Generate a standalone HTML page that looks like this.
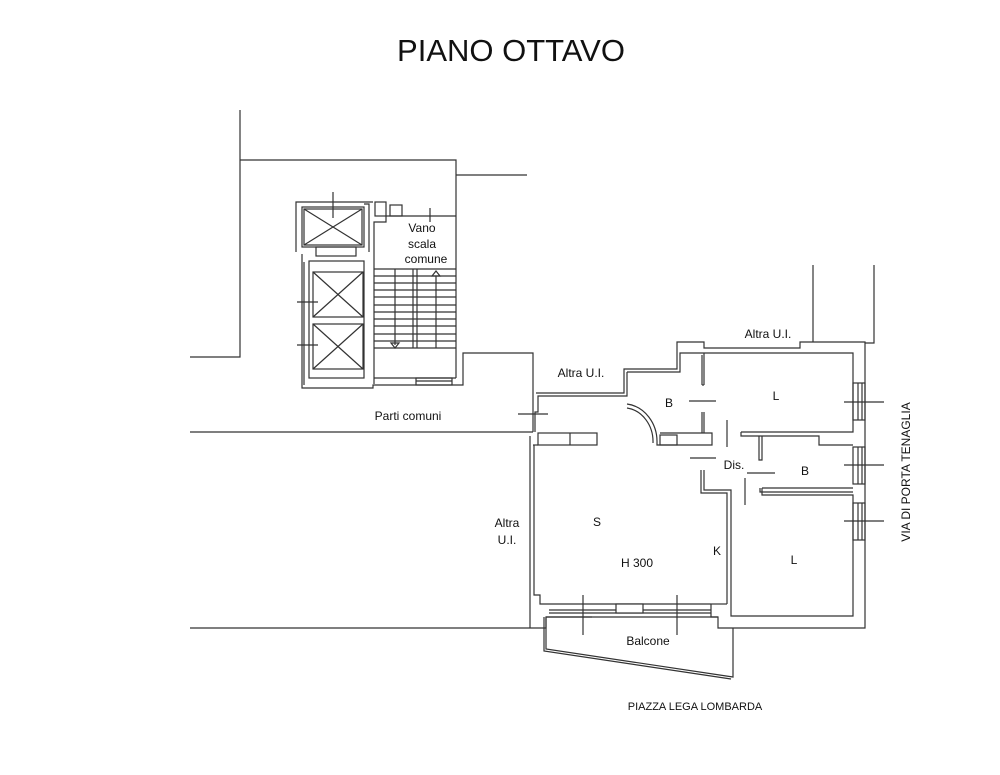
<!DOCTYPE html>
<html><head><meta charset="utf-8"><style>
html,body{margin:0;padding:0;background:#fff;}
svg{display:block;}
text{font-family:"Liberation Sans",sans-serif;fill:#111;}
</style></head><body>
<svg width="1000" height="775" viewBox="0 0 1000 775" xmlns="http://www.w3.org/2000/svg">
<rect width="1000" height="775" fill="#fff"/>
<text x="511" y="61" font-size="31" text-anchor="middle" fill="#000">PIANO OTTAVO</text>
<g fill="none" stroke="#333" stroke-width="1.2">
<polyline points="240,110 240,357 190,357"/>
<polyline points="240,160 456,160 456,378"/>
<line x1="456" y1="175" x2="527" y2="175"/>
<line x1="190" y1="432" x2="533" y2="432"/>
<line x1="190" y1="628" x2="530" y2="628"/>
<polyline points="296,252 296,202 373,202"/>
<rect x="302" y="207" width="62" height="40"/>
<rect x="304" y="209" width="58" height="36"/>
<line x1="304" y1="209" x2="362" y2="245"/><line x1="362" y1="209" x2="304" y2="245"/>
<rect x="316" y="247" width="40" height="9"/>
<line x1="333" y1="192" x2="333" y2="218"/>
<polyline points="364,204 369,204 369,252"/>
<rect x="309" y="261" width="55" height="117"/>
<rect x="313" y="272" width="50" height="45"/>
<line x1="313" y1="272" x2="363" y2="317"/><line x1="363" y1="272" x2="313" y2="317"/>
<rect x="313" y="324" width="50" height="45"/>
<line x1="313" y1="324" x2="363" y2="369"/><line x1="363" y1="324" x2="313" y2="369"/>
<line x1="297" y1="302" x2="318" y2="302"/><line x1="297" y1="345" x2="318" y2="345"/>
<polyline points="302,254 302,388 373,388 373,385 463,385 463,353 533,353 533,432"/>
<polyline points="304,262 304,385"/>
<rect x="375" y="202" width="11" height="14"/>
<rect x="390" y="205" width="12" height="11"/>
<polyline points="374,384 374,222 386,222 386,216 456,216"/>
<line x1="430" y1="208" x2="430" y2="222"/>
<polyline points="374,378 456,378"/>
<rect x="416" y="378" width="36" height="7"/>
<line x1="416" y1="381" x2="452" y2="381"/>
<line x1="374" y1="269" x2="456" y2="269"/>
<line x1="374" y1="276" x2="456" y2="276"/>
<line x1="374" y1="283" x2="456" y2="283"/>
<line x1="374" y1="290" x2="456" y2="290"/>
<line x1="374" y1="297" x2="456" y2="297"/>
<line x1="374" y1="305" x2="456" y2="305"/>
<line x1="374" y1="312" x2="456" y2="312"/>
<line x1="374" y1="319" x2="456" y2="319"/>
<line x1="374" y1="326" x2="456" y2="326"/>
<line x1="374" y1="334" x2="456" y2="334"/>
<line x1="374" y1="341" x2="456" y2="341"/>
<line x1="374" y1="348" x2="456" y2="348"/>
<line x1="413" y1="269" x2="413" y2="348"/><line x1="417" y1="269" x2="417" y2="348"/>
<line x1="395" y1="269" x2="395" y2="345"/><polygon points="391,343 399,343 395,348"/>
<line x1="436" y1="276" x2="436" y2="348"/><polygon points="432,276 440,276 436,271"/>
<polyline points="535,432 535,412 538,412 538,396 627,396 627,372"/>
<polyline points="536,393 624,393 624,369 677,369 677,342 704,342 704,348 800,348 800,342 865,342 865,628 718,628 718,617 711,617 711,604"/>
<line x1="518" y1="414" x2="548" y2="414"/>
<polyline points="813,265 813,342"/><polyline points="874,265 874,343 865,343"/>
<polyline points="627,372 680,372 680,353 853,353 853,432 741,432"/>
<line x1="704" y1="353" x2="704" y2="385"/><line x1="702" y1="355" x2="702" y2="385"/>
<line x1="702" y1="385" x2="704" y2="385"/>
<line x1="702" y1="412" x2="702" y2="433"/><line x1="704" y1="412" x2="704" y2="433"/>
<line x1="689" y1="401" x2="716" y2="401"/>
<path d="M627,404 A34,38 0 0 1 657,443"/>
<path d="M627,408 A30,34 0 0 1 653,443"/>
<polyline points="657,443 657,445 712,445 712,433 660,433"/>
<rect x="660" y="435" width="17" height="10"/>
<line x1="727" y1="420" x2="727" y2="447"/>
<polyline points="741,432 741,436 819,436 819,445 853,445"/>
<polyline points="759,436 759,460 762,460 762,436"/>
<line x1="690" y1="458" x2="716" y2="458"/>
<line x1="747" y1="473" x2="775" y2="473"/>
<line x1="745" y1="478" x2="745" y2="505"/>
<polyline points="701,470 701,493 727,493 727,604"/>
<polyline points="704,470 704,490 731,490 731,616 853,616 853,495 762,495 762,488"/>
<polyline points="760,488 760,492 853,492"/>
<line x1="762" y1="488" x2="853" y2="488"/>
<rect x="853" y="383" width="12" height="37"/><line x1="858" y1="383" x2="858" y2="420"/><line x1="862" y1="383" x2="862" y2="420"/>
<rect x="853" y="447" width="12" height="37"/><line x1="858" y1="447" x2="858" y2="484"/><line x1="862" y1="447" x2="862" y2="484"/>
<rect x="853" y="503" width="12" height="37"/><line x1="858" y1="503" x2="858" y2="540"/><line x1="862" y1="503" x2="862" y2="540"/>
<line x1="844" y1="402" x2="884" y2="402"/><line x1="844" y1="465" x2="884" y2="465"/><line x1="844" y1="521" x2="884" y2="521"/>
<rect x="538" y="433" width="59" height="12"/><line x1="570" y1="433" x2="570" y2="445"/>
<polyline points="530,436 530,628"/>
<polyline points="533,445 538,445"/>
<polyline points="534,445 534,595 540,595 540,604 549,604"/>
<polyline points="530,628 546,628 546,617 592,617"/>
<line x1="549" y1="604" x2="711" y2="604"/>
<line x1="549" y1="610" x2="711" y2="610"/>
<line x1="549" y1="613" x2="711" y2="613"/>
<rect x="616" y="604" width="27" height="9" fill="#fff"/>
<line x1="583" y1="595" x2="583" y2="635"/><line x1="677" y1="595" x2="677" y2="635"/>
<line x1="727" y1="604" x2="711" y2="604"/>
<polyline points="546,617 546,649 733,677 733,628"/>
<polyline points="544,617 544,651 731,679"/>
<line x1="546" y1="617" x2="718" y2="617"/>
</g>
<g font-size="12">
<text x="422" y="232" text-anchor="middle">Vano</text>
<text x="422" y="248" text-anchor="middle">scala</text>
<text x="426" y="263" text-anchor="middle">comune</text>
<text x="408" y="420" text-anchor="middle">Parti comuni</text>
<text x="581" y="377" text-anchor="middle">Altra U.I.</text>
<text x="768" y="338" text-anchor="middle">Altra U.I.</text>
<text x="669" y="407" text-anchor="middle">B</text>
<text x="776" y="400" text-anchor="middle">L</text>
<text x="734" y="469" text-anchor="middle">Dis.</text>
<text x="805" y="475" text-anchor="middle">B</text>
<text x="597" y="526" text-anchor="middle">S</text>
<text x="637" y="567" text-anchor="middle">H 300</text>
<text x="717" y="555" text-anchor="middle">K</text>
<text x="794" y="564" text-anchor="middle">L</text>
<text x="648" y="645" text-anchor="middle">Balcone</text>
<text x="507" y="527" text-anchor="middle">Altra</text>
<text x="507" y="544" text-anchor="middle">U.I.</text>
<text transform="translate(910,472) rotate(-90)" text-anchor="middle">VIA DI PORTA TENAGLIA</text>
<text x="695" y="710" text-anchor="middle" font-size="11">PIAZZA LEGA LOMBARDA</text>
</g>
</svg>
</body></html>
